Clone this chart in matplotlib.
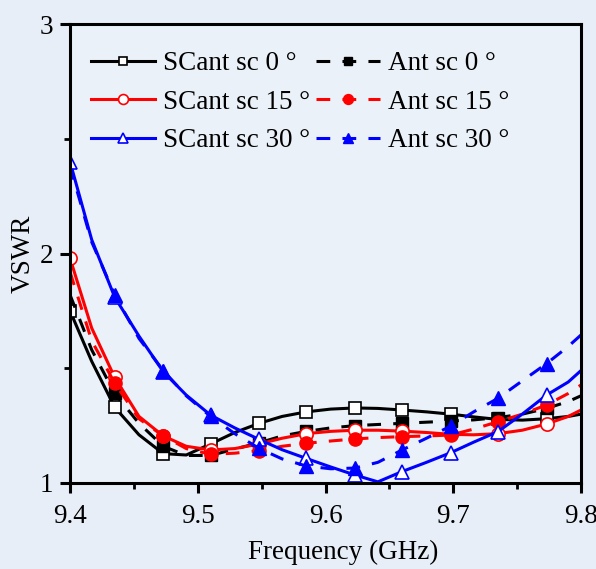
import matplotlib
matplotlib.use('Agg')
import matplotlib.pyplot as plt
from matplotlib.ticker import MultipleLocator

plt.rcParams['font.family'] = ['Liberation Serif', 'DejaVu Serif']

# frequency grid (GHz), markers sit on every other point
freq = [9.4, 9.417, 9.435, 9.454, 9.473, 9.491, 9.51, 9.529, 9.548, 9.566, 9.585,
        9.604, 9.623, 9.641, 9.66, 9.679, 9.698, 9.716, 9.735, 9.754, 9.773, 9.79, 9.8]

scant_0 = [1.75, 1.53, 1.33, 1.21, 1.128, 1.122, 1.17, 1.22, 1.26, 1.29, 1.31,
           1.322, 1.327, 1.325, 1.318, 1.31, 1.30, 1.288, 1.277, 1.274, 1.28, 1.29, 1.30]
ant_0 = [1.82, 1.58, 1.39, 1.26, 1.16, 1.12, 1.12, 1.148, 1.175, 1.205, 1.225,
         1.24, 1.25, 1.255, 1.26, 1.265, 1.27, 1.275, 1.285, 1.30, 1.325, 1.355, 1.38]
scant_15 = [1.98, 1.675, 1.46, 1.29, 1.205, 1.16, 1.144, 1.15, 1.17, 1.195, 1.215,
            1.225, 1.23, 1.23, 1.226, 1.22, 1.212, 1.21, 1.215, 1.23, 1.257, 1.29, 1.318]
ant_15 = [1.92, 1.62, 1.435, 1.28, 1.205, 1.15, 1.125, 1.13, 1.141, 1.16, 1.173,
          1.183, 1.192, 1.198, 1.202, 1.205, 1.209, 1.235, 1.267, 1.30, 1.34, 1.39, 1.427]
scant_30 = [2.40, 2.06, 1.81, 1.64, 1.485, 1.383, 1.296, 1.24, 1.19, 1.145, 1.107,
            1.07, 1.035, 1.005, 1.05, 1.09, 1.132, 1.178, 1.224, 1.30, 1.383, 1.44, 1.49]
ant_30 = [2.38, 2.05, 1.82, 1.63, 1.49, 1.38, 1.29, 1.215, 1.151, 1.105, 1.074,
          1.062, 1.065, 1.09, 1.144, 1.195, 1.248, 1.31, 1.369, 1.445, 1.52, 1.595, 1.645]

labels_sc = ['SCant sc 0 °', 'SCant sc 15 °', 'SCant sc 30 °']
labels_ant = ['Ant sc 0 °', 'Ant sc 15 °', 'Ant sc 30 °']
colors = ['black', 'red', 'blue']
markers_sc = ['s', 'o', '^']
msizes = [8.5, 9.5, 10]

bg = '#E8EEF7'
fig = plt.figure(figsize=(5.96, 5.69), dpi=100, facecolor=bg)
ax = fig.add_axes([70/596, 1-483/569, 511/596, 459/569], facecolor='#EBF1F8')

marks_sc = list(range(0, 21, 2))
marks_ant = list(range(2, 21, 2))
h_sc = []
h_ant = []
for i, (ys, ya) in enumerate([(scant_0, ant_0), (scant_15, ant_15), (scant_30, ant_30)]):
    c = colors[i]
    l1, = ax.plot(freq, ys, color=c, lw=2.2, marker=markers_sc[i], ms=msizes[i],
                  mfc='white', mec=c, mew=1.2, markevery=marks_sc, label=labels_sc[i])
    l2, = ax.plot(freq, ya, color=c, lw=2.2, ls=(0, (4.5, 4)), marker=markers_sc[i],
                  ms=msizes[i], mfc=c, mec=c, markevery=marks_ant, label=labels_ant[i])
    h_sc.append(l1)
    h_ant.append(l2)

ax.set_xlim(9.4, 9.8)
ax.set_ylim(1, 3)
ax.xaxis.set_major_locator(MultipleLocator(0.1))
ax.xaxis.set_minor_locator(MultipleLocator(0.05))
ax.yaxis.set_major_locator(MultipleLocator(1))
ax.yaxis.set_minor_locator(MultipleLocator(0.5))
ax.tick_params(which='major', direction='out', length=7, width=2.2, labelsize=19.5)
ax.tick_params(axis='x', which='major', pad=8)
ax.tick_params(axis='y', which='major', pad=5)
ax.tick_params(which='minor', direction='out', length=4, width=2)
for s in ax.spines.values():
    s.set_linewidth(2.2)

ax.set_xlabel('Frequency (GHz)', fontsize=19.5)
ax.xaxis.set_label_coords(0.534, -0.124)
ax.set_ylabel('VSWR', fontsize=19.5)
ax.yaxis.set_label_coords(-0.068, 0.5)

kw = dict(frameon=False, fontsize=19.5, numpoints=1, handlelength=2.35, handletextpad=0.3,
          labelspacing=0.5, borderpad=0, borderaxespad=0, markerscale=0.75, loc='upper left')
leg1 = ax.legend(handles=h_sc, bbox_to_anchor=(21/511, 1-27/459), **kw)
ax.add_artist(leg1)
ax.legend(handles=h_ant, bbox_to_anchor=(246/511, 1-27/459), **kw)

fig.savefig('out.png', dpi=100, facecolor=bg)
